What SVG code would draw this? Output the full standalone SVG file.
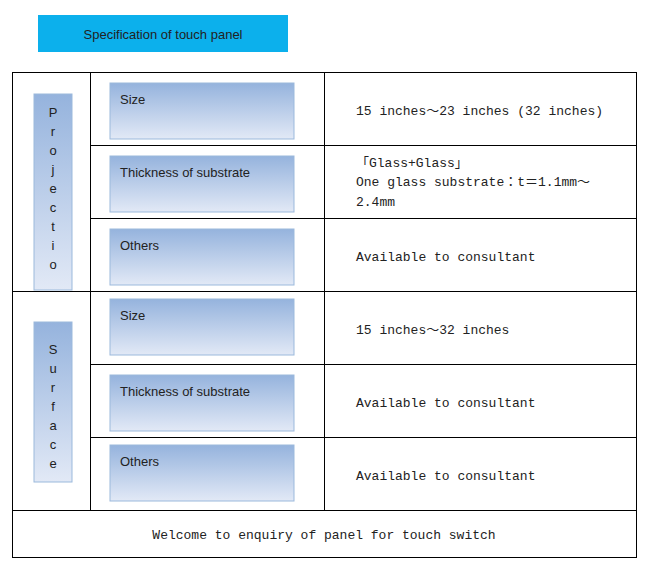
<svg xmlns="http://www.w3.org/2000/svg" width="651" height="577" viewBox="0 0 651 577">
<style>
.g{stroke:#000;stroke-width:1;fill:none}
.b{fill:url(#gr);stroke:#9bb9dc;stroke-width:1}
.l{font-family:"Liberation Sans",sans-serif;font-size:13px;fill:#222}
.m{font-family:"Liberation Mono","Noto Sans CJK JP",monospace;font-size:13px;fill:#222}
.v{font-family:"Liberation Sans",sans-serif;font-size:13px;fill:#222;text-anchor:middle}
</style>
<defs>
<linearGradient id="gr" x1="0" y1="0" x2="0" y2="1"><stop offset="0" stop-color="#95b3dd"/><stop offset="1" stop-color="#e2e9f6"/></linearGradient>
</defs>
<rect width="651" height="577" fill="#fff"/>
<g id="title"><rect x="38" y="15" width="250" height="37" fill="#0cb0ec"/><text x="163" y="39" class="l" text-anchor="middle" font-size="14">Specification of touch panel</text></g>
<g id="grid">
<rect x="12.5" y="72.5" width="624" height="485" class="g"/>
<path class="g" d="M90.5 72.5V510.5M324.5 72.5V510.5M12.5 291.5H636.5M12.5 510.5H636.5M90.5 145.5H636.5M90.5 218.5H636.5M90.5 364.5H636.5M90.5 437.5H636.5"/>
</g>
<g id="projection"><rect x="34" y="94" width="38" height="196" class="b"/>
<text class="v"><tspan x="53" y="117">P</tspan><tspan x="53" y="136">r</tspan><tspan x="53" y="155">o</tspan><tspan x="53" y="174">j</tspan><tspan x="53" y="193">e</tspan><tspan x="53" y="212">c</tspan><tspan x="53" y="231">t</tspan><tspan x="53" y="250">i</tspan><tspan x="53" y="269">o</tspan></text></g>
<g id="surface"><rect x="34" y="322" width="38" height="160" class="b"/>
<text class="v"><tspan x="53" y="354">S</tspan><tspan x="53" y="373">u</tspan><tspan x="53" y="392">r</tspan><tspan x="53" y="411">f</tspan><tspan x="53" y="430">a</tspan><tspan x="53" y="449">c</tspan><tspan x="53" y="468">e</tspan></text></g>
<g id="p-size"><rect x="110" y="83" width="184" height="56" class="b"/><text x="120" y="104" class="l">Size</text></g>
<g id="p-thick"><rect x="110" y="156" width="184" height="56" class="b"/><text x="120" y="177" class="l">Thickness of substrate</text></g>
<g id="p-others"><rect x="110" y="229" width="184" height="56" class="b"/><text x="120" y="250" class="l">Others</text></g>
<g id="s-size"><rect x="110" y="299" width="184" height="56" class="b"/><text x="120" y="320" class="l">Size</text></g>
<g id="s-thick"><rect x="110" y="375" width="184" height="56" class="b"/><text x="120" y="396" class="l">Thickness of substrate</text></g>
<g id="s-others"><rect x="110" y="445" width="184" height="56" class="b"/><text x="120" y="466" class="l">Others</text></g>
<g id="values">
<text x="356" y="115" class="m">15 inches～23 inches (32 inches)</text>
<text class="m"><tspan x="356" y="167">「Glass+Glass」</tspan><tspan x="356" y="186">One glass substrate：t＝1.1mm～</tspan><tspan x="356" y="206">2.4mm</tspan></text>
<text x="356" y="261" class="m">Available to consultant</text>
<text x="356" y="334" class="m">15 inches～32 inches</text>
<text x="356" y="407" class="m">Available to consultant</text>
<text x="356" y="480" class="m">Available to consultant</text>
<text x="324" y="539" class="m" text-anchor="middle">Welcome to enquiry of panel for touch switch</text>
</g>
</svg>
